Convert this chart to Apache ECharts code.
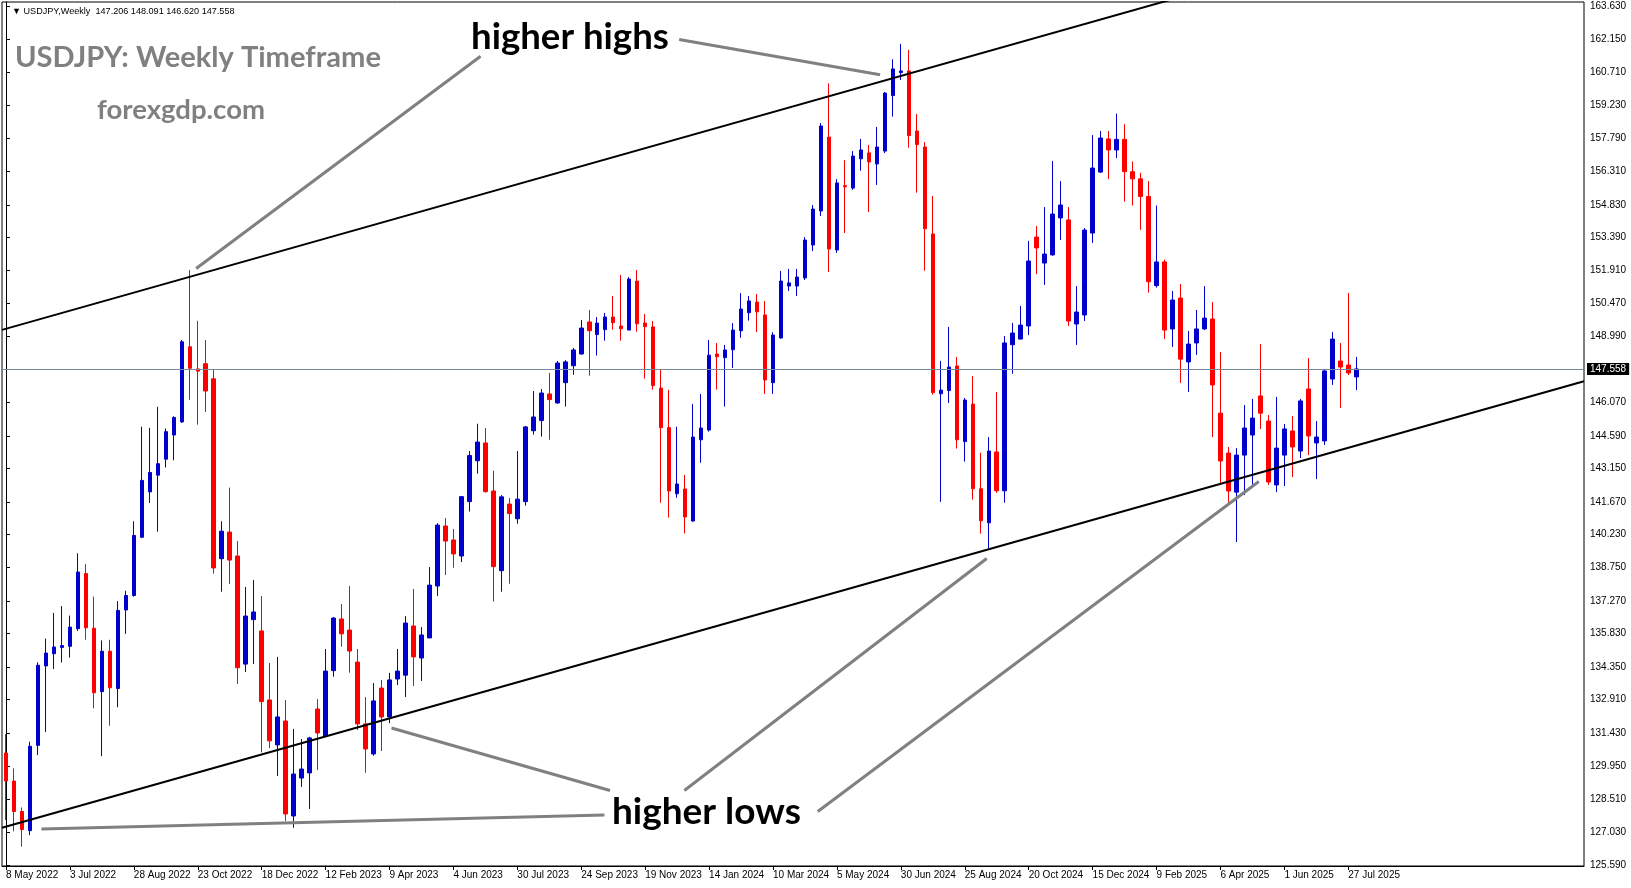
<!DOCTYPE html>
<html><head><meta charset="utf-8">
<script src="https://cdn.jsdelivr.net/npm/echarts@6/dist/echarts.min.js"></script>
<style>html,body{margin:0;padding:0;background:#fff}#c{width:1631px;height:888px}</style>
</head><body><div id="c"></div><script>
// ---- data ----
const startDate = '2022-05-08';   // first weekly bar
const barCount = 170;
const emptySlots = 28;             // right-side shift area

const open = [130.54,129.30,127.95,127.10,130.88,134.40,134.94,135.22,135.27,136.05,
138.49,136.07,133.26,135.05,133.40,136.88,137.52,140.10,142.11,142.85,
143.56,144.63,145.21,148.54,147.56,147.79,147.12,139.15,140.33,139.27,
134.48,136.45,135.95,132.89,130.90,131.96,127.75,129.43,129.66,132.49,
131.30,134.19,136.48,135.99,134.57,131.83,130.50,133.42,132.14,133.82,
133.99,136.17,134.75,135.64,137.94,140.60,139.98,139.27,141.68,143.49,
144.28,142.15,138.62,141.57,140.92,141.68,144.82,145.27,146.45,146.05,
146.95,147.70,148.22,149.64,149.08,149.30,149.86,149.46,149.28,151.45,
149.59,149.42,146.71,144.96,142.03,142.24,140.82,144.42,144.85,148.22,
148.06,148.41,149.25,150.05,150.52,149.95,146.95,148.93,151.23,151.23,
151.59,153.05,154.56,157.83,152.83,155.68,155.57,156.87,157.13,156.64,
157.21,159.67,160.69,160.76,158.10,157.39,153.54,146.46,146.60,147.69,
144.34,146.00,142.25,140.74,143.88,142.16,148.63,148.88,149.46,153.40,
152.25,152.61,154.25,154.16,149.55,149.95,153.58,156.28,157.75,157.26,
157.73,156.30,155.98,155.20,151.25,152.30,149.33,150.70,147.87,148.71,
149.33,149.77,145.60,143.83,142.10,143.74,144.63,146.36,145.25,142.42,
143.74,144.81,143.92,146.67,144.28,144.37,147.11,147.91,147.73,147.206];

const close = [129.30,127.95,127.15,130.84,134.43,134.97,135.24,135.30,136.12,138.56,
136.09,133.21,135.05,133.43,136.86,137.52,140.18,142.62,142.97,143.36,
144.78,145.41,148.76,147.59,147.46,146.58,138.74,140.37,139.09,134.32,
136.61,136.79,132.82,131.08,132.14,127.84,129.61,129.83,131.21,131.43,
134.17,136.52,135.82,135.06,131.83,130.72,132.85,132.14,133.78,134.17,
136.30,134.80,135.77,137.98,140.64,139.93,139.36,141.90,143.72,144.32,
142.12,138.80,141.89,141.15,141.79,144.99,145.43,146.49,146.20,147.82,
147.87,148.40,149.37,149.25,149.59,149.86,149.61,149.34,151.54,149.56,
149.43,146.82,144.96,142.15,142.46,141.00,144.54,144.94,148.17,148.10,
148.40,149.28,150.21,150.57,150.09,147.07,149.06,151.45,151.37,151.63,
153.27,154.64,158.32,152.87,155.80,155.63,156.99,157.26,156.73,157.39,
159.78,160.85,160.76,157.90,157.50,153.77,146.51,146.62,147.64,144.42,
146.18,142.25,140.83,143.92,142.16,148.71,149.15,149.50,152.34,152.92,
152.65,154.42,154.82,149.68,150.08,153.71,156.46,157.79,157.26,157.73,
156.30,155.98,155.20,151.42,152.30,149.28,150.61,147.99,148.66,149.33,
149.81,146.85,143.48,142.15,143.74,144.94,145.38,145.60,142.55,144.05,
144.90,144.10,146.14,144.59,144.54,147.47,148.88,147.64,147.38,147.558];

const low = [127.57,127.07,126.39,126.90,130.45,131.47,134.26,134.55,134.77,135.95,
135.56,132.52,130.40,131.75,132.57,135.82,137.47,140.06,141.62,140.35,
143.19,143.51,145.17,146.19,145.09,145.65,138.49,137.69,138.03,133.60,
134.13,134.48,130.57,130.76,129.52,127.53,127.23,129.04,128.06,129.79,
131.30,133.92,135.25,134.10,131.56,129.67,130.42,130.63,131.86,133.55,
133.02,133.51,133.73,135.64,137.50,138.43,138.75,139.00,141.24,142.92,
142.08,137.25,137.69,138.04,140.70,141.50,144.65,144.56,144.42,146.02,
145.89,147.30,148.19,147.26,148.15,148.81,149.30,148.81,149.28,149.21,
147.13,146.64,141.63,140.97,141.85,140.27,140.79,143.40,144.78,146.64,
145.89,147.60,148.94,149.70,149.19,146.45,146.45,148.90,151.01,150.79,
151.50,152.78,154.33,151.85,152.70,153.58,155.49,156.34,154.51,155.71,
157.12,158.74,160.36,157.36,155.37,151.91,146.42,141.67,146.05,144.03,
143.45,141.77,140.26,139.60,142.07,141.63,147.35,148.88,149.06,151.76,
151.28,152.58,153.27,149.46,148.62,149.68,153.14,156.24,155.97,156.90,
154.97,154.80,153.72,150.94,151.16,148.88,148.53,146.94,146.54,148.18,
149.28,144.54,142.46,141.62,139.89,141.97,142.33,144.90,142.42,142.10,
142.37,142.77,143.61,143.74,142.68,144.19,146.85,145.83,147.29,146.620];

const high = [131.38,129.86,128.13,131.04,134.56,135.61,136.75,137.05,136.63,139.39,
138.91,137.47,135.53,135.56,137.27,137.73,140.81,145.00,144.95,145.88,
144.92,145.46,148.84,151.94,149.69,148.84,147.54,140.81,142.30,139.93,
137.90,138.21,137.50,134.53,134.80,132.89,131.61,131.16,131.26,132.93,
135.15,136.57,137.14,137.94,135.15,133.02,133.64,133.78,134.09,135.15,
136.61,137.81,136.12,138.78,140.73,140.95,140.47,141.93,143.92,145.13,
144.94,143.05,141.97,141.84,143.92,145.03,146.58,146.67,147.38,147.91,
147.95,148.49,149.73,150.17,149.86,150.04,150.79,151.72,151.63,151.94,
149.99,149.68,147.51,146.63,145.00,142.86,146.00,146.45,148.84,148.71,
148.62,149.59,150.92,150.79,150.88,150.57,149.19,151.90,151.99,151.99,
153.40,154.82,158.45,160.21,155.97,156.81,157.21,157.75,157.48,158.28,
159.83,161.28,161.96,161.70,158.85,157.61,155.22,147.91,149.42,148.09,
146.27,147.24,143.85,144.54,146.54,149.02,149.60,150.35,153.23,153.89,
154.73,156.77,155.88,154.73,151.23,153.80,157.92,158.10,158.10,158.87,
158.40,156.75,156.25,155.88,154.80,152.40,151.01,151.32,149.24,150.17,
151.23,150.52,148.31,144.10,144.05,145.96,146.23,148.66,145.52,146.32,
145.12,145.47,146.23,148.04,145.25,147.56,149.19,148.71,150.92,148.091];

const yTickLabels = [125.59,127.03,128.51,129.95,131.43,132.91,134.35,135.83,137.27,138.75,
140.23,141.67,143.15,144.59,146.07,148.99,150.47,151.91,153.39,154.83,
156.31,157.79,159.23,160.71,162.15,163.63];

const lastPrice = 147.558;
const headerText = '\u25BC USDJPY,Weekly  147.206 148.091 146.620 147.558';

// channel lines (bar index, price)
const upperChannel = [[-0.5, 149.29], [150, 164.34]];
const lowerChannel = [[-0.5, 127.23], [197.5, 147.01]];
// grey pointer lines from the labels (bar index, price)
const pointerLines = [
  [[23.8, 152.01], [59.4, 161.41]],
  [[84.25, 162.15], [109.4, 160.59]],
  [[4.44, 127.17], [74.9, 127.80]],
  [[48.25, 131.65], [75.6, 128.88]],
  [[84.9, 128.88], [122.75, 139.16]],
  [[101.6, 127.95], [156.8, 142.57]]
];

// ---- build ----
const MONTHS = ['Jan','Feb','Mar','Apr','May','Jun','Jul','Aug','Sep','Oct','Nov','Dec'];
const t0 = Date.parse(startDate + 'T00:00:00Z');
const categories = [];
for (let i = 0; i < barCount + emptySlots; i++) {
  if (i < barCount) {
    const d = new Date(t0 + i * 7 * 86400000);
    categories.push(d.getUTCDate() + ' ' + MONTHS[d.getUTCMonth()] + ' ' + d.getUTCFullYear());
  } else categories.push('');
}
const candles = open.map((o, i) => [o, close[i], low[i], high[i]]);
const nCat = categories.length;

function fitSize(text, weight, family, targetW) {
  const ctx = document.createElement('canvas').getContext('2d');
  ctx.font = weight + ' 100px ' + family;
  return 100 * targetW / ctx.measureText(text).width;
}
function label(text, x, yMid, w, color, weight, family) {
  const s = fitSize(text, weight, family, w);
  return { type: 'text', x: x, y: yMid, z: 100,
    style: { text: text, font: weight + ' ' + s.toFixed(2) + 'px ' + family, fill: color,
      textAlign: 'left', textVerticalAlign: 'middle' } };
}

const labelEvery = (i) => i % 8 === 0 && i < barCount;

const series = [{
  type: 'candlestick', data: candles, barWidth: 4,
  itemStyle: { color: '#0000cc', color0: '#ff0000', borderColor: '#0000cc', borderColor0: '#ff0000', borderWidth: 1 },
  markLine: {
    silent: true, symbol: 'none', animation: false,
    lineStyle: { color: '#778899', width: 1, type: 'solid' },
    label: { show: true, position: 'end', formatter: lastPrice.toFixed(3), backgroundColor: '#000', color: '#fff',
      fontSize: 10, fontFamily: 'Liberation Sans', padding: [1, 3, 1, 3], distance: 3 },
    data: [{ yAxis: lastPrice }]
  }
}];
[upperChannel, lowerChannel].forEach(d => series.push({
  type: 'line', xAxisIndex: 1, data: d, symbol: 'none', clip: true, z: 5, silent: true,
  lineStyle: { color: '#000', width: 2 }
}));
pointerLines.forEach(d => series.push({
  type: 'line', xAxisIndex: 1, data: d, symbol: 'none', clip: true, z: 6, silent: true,
  lineStyle: { color: '#808080', width: 3 }
}));

const chart = echarts.init(document.getElementById('c'), null, { renderer: 'canvas' });
chart.setOption({
  animation: false,
  backgroundColor: '#fff',
  grid: { left: 2, right: 47, top: 2, bottom: 22, show: true, borderColor: '#000', borderWidth: 1 },
  xAxis: [{
    type: 'category', data: categories, boundaryGap: true,
    axisLine: { show: true, lineStyle: { color: '#000' } },
    axisTick: { show: true, alignWithLabel: true, interval: labelEvery, length: 4, lineStyle: { color: '#000' } },
    axisLabel: { interval: labelEvery, align: 'left', color: '#000', fontSize: 10, fontFamily: 'Liberation Sans', margin: 4 },
    splitLine: { show: false }
  }, {
    type: 'value', min: -0.5, max: nCat - 0.5, show: false
  }],
  yAxis: {
    type: 'value', position: 'right', min: 125.535, max: 163.816,
    axisLine: { show: true, lineStyle: { color: '#000' } },
    axisTick: { show: true, length: 4, customValues: yTickLabels, lineStyle: { color: '#000' } },
    axisLabel: { customValues: yTickLabels, formatter: v => v.toFixed(3), color: '#000', fontSize: 10,
      fontFamily: 'Liberation Sans', margin: 6 },
    splitLine: { show: false }
  },
  graphic: [
    label(headerText, 12, 11, 223, '#000', 'normal', 'Liberation Sans'),
    label('USDJPY: Weekly Timeframe', 15, 58, 366, '#808080', 'bold', 'Lato'),
    label('forexgdp.com', 97, 110, 168, '#808080', 'bold', 'Lato'),
    label('higher highs', 471, 37, 198, '#000', 'bold', 'Lato'),
    label('higher lows', 612, 812, 189, '#000', 'bold', 'Lato')
  ],
  series: series
});
</script></body></html>
